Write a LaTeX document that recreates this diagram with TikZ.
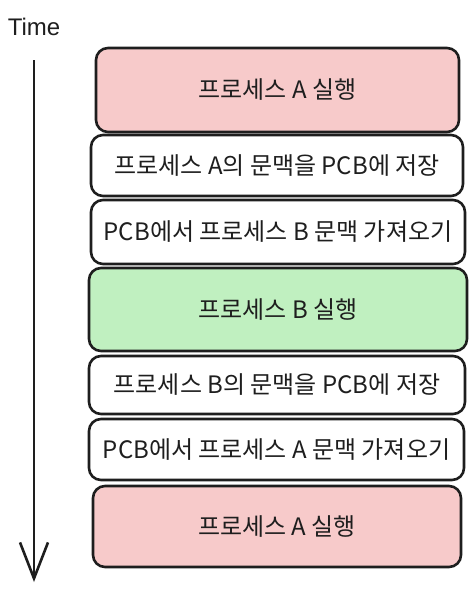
\documentclass[tikz,border=0pt]{standalone}
\usepackage{fontspec}
\setmainfont{Liberation Sans}
\newfontfamily\krfont{Noto Sans CJK KR}
\usepackage{xcolor}
\usetikzlibrary{positioning, arrows.meta}

\definecolor{pinkfill}{HTML}{F7CACA}
\definecolor{greenfill}{HTML}{C0F0C0}
\definecolor{inkline}{HTML}{1E1E1E}

\begin{document}
\begin{tikzpicture}[
    x=1pt, y=-1pt,
    >=Straight Barb,
    runpink/.style={rectangle, rounded corners=12pt, draw=inkline, line width=2.6pt, fill=pinkfill, inner sep=0pt, text=inkline, font=\krfont\fontsize{24}{28}\selectfont},
    rungreen/.style={rectangle, rounded corners=12pt, draw=inkline, line width=2.6pt, fill=greenfill, inner sep=0pt, text=inkline, font=\krfont\fontsize{24}{28}\selectfont},
    switchbox/.style={rectangle, rounded corners=12pt, draw=inkline, line width=2.6pt, fill=white, inner sep=0pt, text=inkline, font=\krfont\fontsize{24}{28}\selectfont},
    timelabel/.style={font=\fontsize{24}{28}\selectfont, text=inkline}
]
\useasboundingbox (0,0) rectangle (472,594);

% Time axis
\node[timelabel] (time) at (34,27) {Time};
\coordinate (tstart) at (34,60);
\coordinate (tend) at (34,582);
\draw[line width=2.6pt, inkline, {Straight Barb[length=36pt, width=28pt]}-] (tend) -- (tstart);

% Process A runs
\node[runpink, minimum width=363pt, minimum height=84pt] (runA1) at (277.5,90) {프로세스 A 실행};

% Save A, load B
\node[switchbox, minimum width=372pt, minimum height=61pt] (saveA) at (277,165.5) {프로세스 A의 문맥을 PCB에 저장};
\node[switchbox, minimum width=374pt, minimum height=64pt] (loadB) at (278,232) {PCB에서 프로세스 B 문맥 가져오기};

% Process B runs
\node[rungreen, minimum width=378pt, minimum height=83pt] (runB) at (278,309.5) {프로세스 B 실행};

% Save B, load A
\node[switchbox, minimum width=376pt, minimum height=58pt] (saveB) at (277,385) {프로세스 B의 문맥을 PCB에 저장};
\node[switchbox, minimum width=375pt, minimum height=61pt] (loadA) at (276.5,449.5) {PCB에서 프로세스 A 문맥 가져오기};

% Process A runs again
\node[runpink, minimum width=368pt, minimum height=81pt] (runA2) at (277,526.5) {프로세스 A 실행};

\end{tikzpicture}
\end{document}
